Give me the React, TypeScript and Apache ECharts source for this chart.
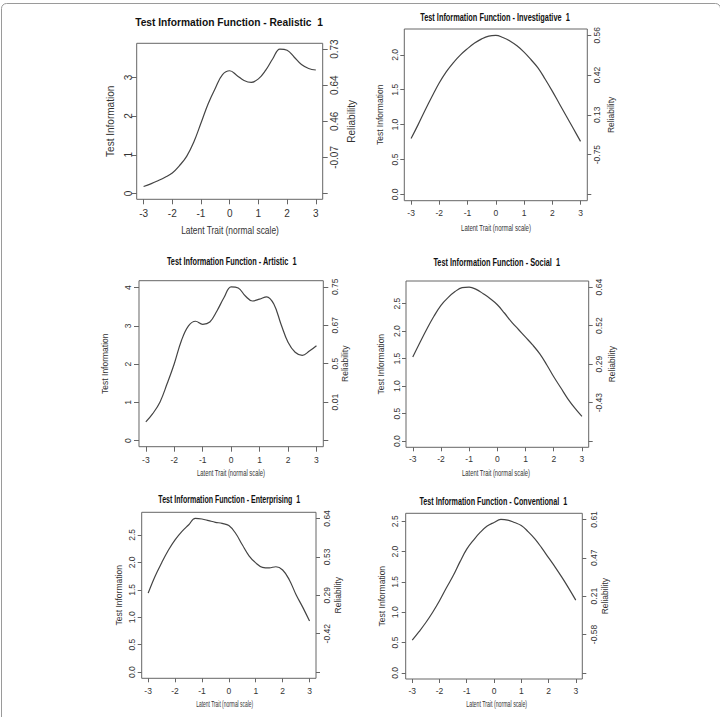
import React, { useEffect, useRef } from "react";
import * as echarts from "echarts";

// ---------- data ----------
const latentTrait = [
  -3, -2.75, -2.5, -2.25, -2, -1.75, -1.5, -1.25, -1, -0.75, -0.5, -0.25, 0,
  0.25, 0.5, 0.75, 1, 1.25, 1.5, 1.75, 2, 2.25, 2.5, 2.75, 3,
];

const realistic = [
  0.18, 0.25, 0.33, 0.42, 0.53, 0.72, 0.96, 1.33, 1.82, 2.32, 2.72, 3.07, 3.17,
  3.05, 2.92, 2.87, 2.96, 3.18, 3.48, 3.73, 3.7, 3.52, 3.33, 3.23, 3.19,
];
const investigative = [
  0.8, 1.0, 1.21, 1.41, 1.6, 1.76, 1.89, 2.0, 2.09, 2.17, 2.23, 2.27, 2.28,
  2.25, 2.2, 2.13, 2.04, 1.93, 1.81, 1.65, 1.48, 1.3, 1.12, 0.94, 0.76,
];
const artistic = [
  0.49, 0.71, 1.01, 1.49, 2.01, 2.61, 3.0, 3.12, 3.04, 3.1, 3.39, 3.74, 4.02,
  3.99, 3.78, 3.65, 3.7, 3.76, 3.57, 3.05, 2.57, 2.31, 2.23, 2.34, 2.48,
];
const social = [
  1.53, 1.79, 2.04, 2.27, 2.47, 2.61, 2.72, 2.79, 2.8, 2.76, 2.68, 2.59, 2.48,
  2.33, 2.17, 2.03, 1.89, 1.75, 1.59, 1.39, 1.17, 0.97, 0.77, 0.6, 0.45,
];
const enterprising = [
  1.44, 1.74, 1.99, 2.22, 2.41, 2.56, 2.68, 2.8, 2.79, 2.76, 2.73, 2.71, 2.67,
  2.53, 2.32, 2.12, 1.99, 1.91, 1.9, 1.92, 1.86, 1.68, 1.41, 1.18, 0.93,
];
const conventional = [
  0.54, 0.68, 0.83, 1.0, 1.19, 1.4, 1.6, 1.83, 2.04, 2.19, 2.32, 2.42, 2.48,
  2.53, 2.52, 2.48, 2.43, 2.33, 2.21, 2.06, 1.9, 1.74, 1.57, 1.39, 1.2,
];

const panelNames = [
  "Realistic",
  "Investigative",
  "Artistic",
  "Social",
  "Enterprising",
  "Conventional",
];
const panelSeries = [realistic, investigative, artistic, social, enterprising, conventional];

const xTicks = [-3, -2, -1, 0, 1, 2, 3];
const leftTicksInt = [0, 1, 2, 3];
const leftTicksInt4 = [0, 1, 2, 3, 4];
const leftTicksHalf = [0, 0.5, 1, 1.5, 2];
const leftTicksHalf25 = [0, 0.5, 1, 1.5, 2, 2.5];
const leftTicks = [leftTicksInt, leftTicksHalf, leftTicksInt4, leftTicksHalf25, leftTicksHalf25, leftTicksHalf25];
const leftDecimals = [0, 1, 0, 1, 1, 1];

const reliabilityLabels = [
  ["-0.07", "0.46", "0.64", "0.73"],
  ["-0.75", "0.13", "0.42", "0.56"],
  ["0.01", "0.5", "0.67", "0.75"],
  ["-0.43", "0.29", "0.52", "0.64"],
  ["-0.42", "0.29", "0.53", "0.64"],
  ["-0.58", "0.21", "0.47", "0.61"],
];

// ---------- layout ----------
type Layout = {
  box: [number, number, number, number]; // left, top, width, height
  title: [number, number, number];
  xName: [number, number, number];
  titleSize: number;
  tickSize: number;
  nameSize: number;
  tickLen: number;
  xMargin: number;
  lMargin: number;
  rMargin: number;
  lGap: number;
  rGap: number;
};

const layouts: Layout[] = [
  { box: [136.7, 43.3, 186, 156], title: [229, 21.7, 188], xName: [230, 230.7, 98], titleSize: 11, tickSize: 10, nameSize: 10, tickLen: 5, xMargin: 9, lMargin: 3, rMargin: 7, lGap: 21, rGap: 24 },
  { box: [404.3, 29, 183, 171.7], title: [495, 17.3, 150], xName: [496, 228.3, 70], titleSize: 10, tickSize: 8.5, nameSize: 8.5, tickLen: 4, xMargin: 8, lMargin: 5, rMargin: 5, lGap: 20, rGap: 19 },
  { box: [139, 280.7, 184.3, 166], title: [231.7, 261.7, 130], xName: [231, 473, 68], titleSize: 10, tickSize: 8.5, nameSize: 8.5, tickLen: 5, xMargin: 9, lMargin: 7, rMargin: 7, lGap: 29.7, rGap: 17.4 },
  { box: [406, 281, 182.7, 166.3], title: [496.7, 262.3, 127], xName: [496, 473, 68], titleSize: 10, tickSize: 8.5, nameSize: 8.5, tickLen: 4, xMargin: 7, lMargin: 5, rMargin: 6, lGap: 21, rGap: 18.7 },
  { box: [141.7, 512.3, 174.3, 166], title: [229.3, 500, 142], xName: [224.7, 704, 57], titleSize: 10, tickSize: 8.5, nameSize: 8.5, tickLen: 4, xMargin: 8, lMargin: 5, rMargin: 6, lGap: 18.4, rGap: 17 },
  { box: [405.7, 513.3, 176.6, 165.7], title: [493.3, 501.7, 148], xName: [496.7, 704, 61], titleSize: 10, tickSize: 8.5, nameSize: 8.5, tickLen: 4, xMargin: 7.5, lMargin: 6, rMargin: 7, lGap: 19.2, rGap: 18.4 },
];

const FONT = "'Liberation Sans', Arial, Helvetica, sans-serif";
const TEXT_COLOR = "#333";
const AXIS_COLOR = "#666";
const LINE_COLOR = "#444";

let measureCtx: CanvasRenderingContext2D | null = null;
function measure(text: string, size: number, bold: boolean): number {
  if (!measureCtx) measureCtx = document.createElement("canvas").getContext("2d");
  if (!measureCtx) return text.length * size * 0.5;
  measureCtx.font = `${bold ? "bold " : ""}${size}px ${FONT}`;
  return measureCtx.measureText(text).width;
}

function buildOption() {
  const grid: any[] = [];
  const xAxis: any[] = [];
  const yAxis: any[] = [];
  const series: any[] = [];
  const graphic: any[] = [
    {
      type: "rect",
      shape: { x: 1.5, y: 3.5, width: 719, height: 720, r: 5 },
      style: { fill: "none", stroke: "#9a9a9a", lineWidth: 1 },
      silent: true,
    },
  ];

  panelSeries.forEach((vals, i) => {
    const L = layouts[i];
    const M = Math.max(...vals);
    const yMin = -0.04 * M;
    const yMax = 1.04 * M;
    const relTicks = [0, 1, 2, 3, 4].map((k) => (M * k) / 4);
    const rel = reliabilityLabels[i];

    grid.push({
      left: L.box[0],
      top: L.box[1],
      width: L.box[2],
      height: L.box[3],
      show: true,
      borderColor: AXIS_COLOR,
      borderWidth: 1,
      backgroundColor: "transparent",
      containLabel: false,
    });

    xAxis.push({
      type: "value",
      gridIndex: i,
      position: "bottom",
      min: -3.24,
      max: 3.24,
      axisLine: { show: false, onZero: false },
      splitLine: { show: false },
      axisTick: { show: true, length: L.tickLen, lineStyle: { color: AXIS_COLOR }, customValues: xTicks },
      axisLabel: {
        customValues: xTicks,
        fontSize: L.tickSize,
        fontFamily: FONT,
        color: TEXT_COLOR,
        margin: L.xMargin,
        formatter: (v: number) => String(v),
      },
    });

    const dec = leftDecimals[i];
    yAxis.push({
      type: "value",
      gridIndex: i,
      position: "left",
      min: yMin,
      max: yMax,
      axisLine: { show: false, onZero: false },
      splitLine: { show: false },
      axisTick: { show: true, length: L.tickLen, lineStyle: { color: AXIS_COLOR }, customValues: leftTicks[i] },
      axisLabel: {
        customValues: leftTicks[i],
        rotate: 90,
        fontSize: L.tickSize,
        fontFamily: FONT,
        color: TEXT_COLOR,
        margin: L.lMargin,
        formatter: (v: number) => v.toFixed(dec),
      },
      name: "Test Information",
      nameLocation: "middle",
      nameRotate: 90,
      nameGap: L.lGap,
      nameTextStyle: { fontSize: L.nameSize, fontFamily: FONT, color: TEXT_COLOR },
    });

    yAxis.push({
      type: "value",
      gridIndex: i,
      position: "right",
      min: yMin,
      max: yMax,
      axisLine: { show: false, onZero: false },
      splitLine: { show: false },
      axisTick: { show: true, length: L.tickLen, lineStyle: { color: AXIS_COLOR }, customValues: relTicks },
      axisLabel: {
        customValues: relTicks,
        rotate: 90,
        fontSize: L.tickSize,
        fontFamily: FONT,
        color: TEXT_COLOR,
        margin: L.rMargin,
        formatter: (v: number) => {
          const k = Math.round(v / (M / 4));
          return k >= 1 && k <= 4 ? rel[k - 1] : "";
        },
      },
      name: "Reliability",
      nameLocation: "middle",
      nameRotate: 90,
      nameGap: L.rGap,
      nameTextStyle: { fontSize: L.nameSize, fontFamily: FONT, color: TEXT_COLOR },
    });

    series.push({
      type: "line",
      xAxisIndex: i,
      yAxisIndex: 2 * i,
      data: latentTrait.map((x, j) => [x, vals[j]]),
      smooth: 0.4,
      showSymbol: false,
      silent: true,
      lineStyle: { color: LINE_COLOR, width: 1.2 },
    });

    const title = `Test Information Function - ${panelNames[i]}  1`;
    const tw = measure(title, L.titleSize, true);
    graphic.push({
      type: "text",
      x: L.title[0],
      y: L.title[1],
      scaleX: L.title[2] / tw,
      silent: true,
      style: {
        text: title,
        fontSize: L.titleSize,
        fontWeight: "bold",
        fontFamily: FONT,
        fill: "#111",
        align: "center",
        verticalAlign: "middle",
      },
    });

    const xName = "Latent Trait (normal scale)";
    const xw = measure(xName, L.nameSize, false);
    graphic.push({
      type: "text",
      x: L.xName[0],
      y: L.xName[1],
      scaleX: L.xName[2] / xw,
      silent: true,
      style: {
        text: xName,
        fontSize: L.nameSize,
        fontFamily: FONT,
        fill: TEXT_COLOR,
        align: "center",
        verticalAlign: "middle",
      },
    });
  });

  return {
    animation: false,
    backgroundColor: "#ffffff",
    grid,
    xAxis,
    yAxis,
    series,
    graphic,
  };
}

export default function App() {
  const ref = useRef<HTMLDivElement>(null);
  useEffect(() => {
    if (!ref.current) return;
    const chart = echarts.init(ref.current, undefined, { renderer: "svg" });
    chart.setOption(buildOption() as any);
    return () => chart.dispose();
  }, []);
  return (
    <div
      ref={ref}
      style={{ position: "absolute", left: 0, top: 0, width: 720, height: 717 }}
    />
  );
}
